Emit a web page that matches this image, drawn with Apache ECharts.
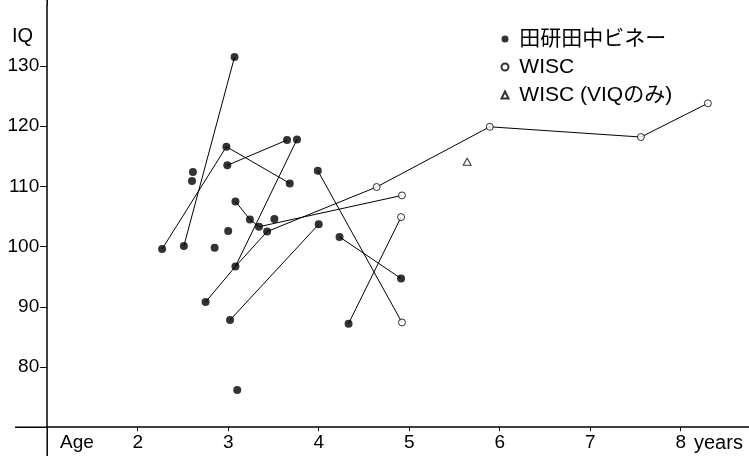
<!DOCTYPE html>
<html>
<head>
<meta charset="utf-8">
<style>
html,body{margin:0;padding:0;background:#fff;}
#chart{width:749px;height:456px;}
</style>
<script src="https://cdn.jsdelivr.net/npm/echarts@6/dist/echarts.min.js"></script>
</head>
<body>
<div id="chart"></div>
<script>
// ---- data (age in years, IQ) ----
const binetAge = [3.07, 2.98, 3.65, 3.76, 2.99, 3.68, 2.61, 2.60, 3.99, 3.08, 3.24, 3.34, 3.51, 3.43, 4.00, 3.00, 2.27, 2.51, 2.85, 3.08, 2.75, 3.02, 3.10, 4.23, 4.91, 4.33];
const binetIQ  = [131.5, 116.6, 117.7, 117.8, 113.5, 110.5, 112.4, 110.9, 112.6, 107.5, 104.5, 103.3, 104.6, 102.5, 103.7, 102.6, 99.6, 100.1, 99.8, 96.7, 90.8, 87.8, 76.2, 101.6, 94.7, 87.2];
const wiscAge  = [4.64, 4.92, 4.91, 4.92, 5.89, 7.56, 8.30];
const wiscIQ   = [109.9, 108.5, 104.9, 87.4, 119.9, 118.2, 123.8];
const viqAge   = [5.64];
const viqIQ    = [114.1];
// follow-up connections (b = 田研田中ビネー index, w = WISC index)
const chains = [
  ['b16', 'b1', 'b5'],
  ['b17', 'b0'],
  ['b4', 'b2'],
  ['b20', 'b19', 'b3'],
  ['b19', 'b13', 'w0', 'w4', 'w5', 'w6'],
  ['b9', 'b10', 'b11', 'w1'],
  ['b21', 'b14'],
  ['b8', 'w3'],
  ['b23', 'b24'],
  ['b25', 'w2']
];
const xTicks = [2, 3, 4, 5, 6, 7, 8];
const yTicks = [80, 90, 100, 110, 120, 130];
const seriesNames = ['田研田中ビネー', 'WISC', 'WISC (VIQのみ)'];

// ---- build ----
function pt(id) {
  const i = +id.slice(1);
  return id[0] === 'b' ? [binetAge[i], binetIQ[i]] : [wiscAge[i], wiscIQ[i]];
}
const linkData = [];
chains.forEach(function (c, k) {
  if (k > 0) linkData.push('-');
  c.forEach(function (id) { linkData.push(pt(id)); });
});
const zip = (a, b) => a.map((v, i) => [v, b[i]]);

const FONT = '"Liberation Sans", "Noto Sans CJK JP", Arial, sans-serif';
const chart = echarts.init(document.getElementById('chart'), null, {renderer: 'canvas'});

const X0 = 47.2, XW = 701.4, Y0 = 5.8, YH = 421.4;

chart.setOption({
  animation: false,
  backgroundColor: '#fff',
  textStyle: {fontFamily: FONT},
  grid: {left: X0, top: Y0, width: XW, height: YH, containLabel: false, outerBoundsMode: 'none'},
  xAxis: {
    type: 'value', min: 1, max: 8.75, interval: 1,
    axisLine: {show: true, lineStyle: {color: '#000', width: 1.5}},
    axisTick: {show: true, customValues: xTicks, length: 4, lineStyle: {color: '#000', width: 1}},
    axisLabel: {customValues: xTicks, fontSize: 19, color: '#000', margin: 6, fontFamily: FONT},
    splitLine: {show: false}
  },
  yAxis: {
    type: 'value', min: 70, max: 140, interval: 10,
    axisLine: {show: true, lineStyle: {color: '#000', width: 1.5}},
    axisTick: {show: true, customValues: yTicks, length: 7, lineStyle: {color: '#000', width: 1}},
    axisLabel: {customValues: yTicks, fontSize: 19, color: '#000', margin: 8, fontFamily: FONT},
    splitLine: {show: false}
  },
  legend: {
    orient: 'vertical', left: 495.5, top: 23.5, itemGap: 7,
    itemWidth: 7, itemHeight: 7,
    data: seriesNames,
    formatter: function (n) { return ' ' + n; },
    textStyle: {fontSize: 21, color: '#000', fontFamily: FONT}
  },
  series: [
    {
      type: 'line', name: 'links', data: linkData, symbol: 'none', silent: true,
      connectNulls: false, z: 1,
      lineStyle: {color: '#000', width: 1}
    },
    {
      type: 'scatter', name: seriesNames[0], data: zip(binetAge, binetIQ),
      symbol: 'circle', symbolSize: 8, z: 3,
      itemStyle: {color: '#000'}
    },
    {
      type: 'scatter', name: seriesNames[1], data: zip(wiscAge, wiscIQ),
      symbol: 'circle', symbolSize: 7, z: 3,
      itemStyle: {color: '#fff', borderColor: '#000', borderWidth: 1}
    },
    {
      type: 'scatter', name: seriesNames[2], data: zip(viqAge, viqIQ),
      symbol: 'triangle', symbolSize: [8, 7], z: 3,
      itemStyle: {color: '#fff', borderColor: '#000', borderWidth: 1}
    }
  ],
  graphic: [
    {type: 'line', shape: {x1: X0, y1: 0, x2: X0, y2: Y0}, style: {stroke: '#000', lineWidth: 1.5}},
    {type: 'line', shape: {x1: X0, y1: Y0 + YH, x2: X0, y2: 456}, style: {stroke: '#000', lineWidth: 1.5}},
    {type: 'line', shape: {x1: 15, y1: Y0 + YH, x2: X0, y2: Y0 + YH}, style: {stroke: '#000', lineWidth: 1.5}},
    {type: 'text', left: 12, top: 26, style: {text: 'IQ', fontSize: 20, fill: '#000', fontFamily: FONT}},
    {type: 'text', left: 60, top: 433, style: {text: 'Age', fontSize: 19, fill: '#000', fontFamily: FONT}},
    {type: 'text', left: 694, top: 433, style: {text: 'years', fontSize: 20, fill: '#000', fontFamily: FONT}}
  ]
});
</script>
</body>
</html>
